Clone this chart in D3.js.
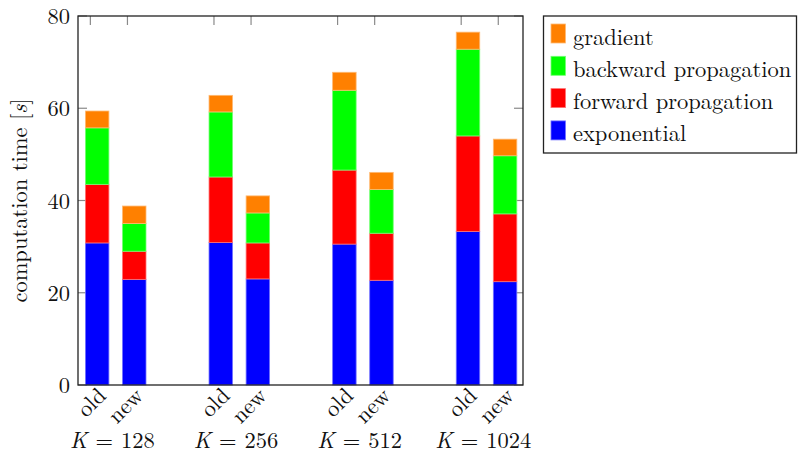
<!DOCTYPE html>
<html>
<head>
<meta charset="utf-8">
<script src="https://cdn.jsdelivr.net/npm/d3@7"></script>
<style>
  html, body { margin: 0; padding: 0; background: #fff; }
  svg { display: block; }
</style>
</head>
<body>
<svg id="chart" width="798" height="450"></svg>
<script>
// Problem sizes and the two implementations compared for each
const groups = ["128", "256", "512", "1024"];
const variants = ["old", "new"];

// Stacked timing components in seconds, one value per bar (old/new per K)
const exponential = [30.8, 22.9, 30.9, 23.0, 30.55, 22.7, 33.3, 22.4];
const forwardProp = [12.7, 6.1, 14.2, 7.8, 16.05, 10.2, 20.7, 14.7];
const backwardProp = [12.25, 6.0, 14.1, 6.5, 17.3, 9.5, 18.8, 12.6];
const gradient = [3.65, 3.8, 3.6, 3.7, 3.9, 3.7, 3.7, 3.6];

const seriesNames = ["exponential", "forward propagation", "backward propagation", "gradient"];
const seriesColors = ["#0000ff", "#ff0000", "#00ff00", "#ff8000"];
const yTicks = [0, 20, 40, 60, 80];

const FONT = '"Latin Modern Roman", "CMU Serif", "Liberation Serif", serif';
const FS = 22.5;

const svg = d3.select("#chart");
const plotL = 78, plotR = 523, plotT = 16, plotB = 385;

// Bar positions along x: members of a group sit one unit apart, groups 10/3 apart
const positions = [];
groups.forEach((g, gi) => variants.forEach((v, vi) => positions.push(gi * 10 / 3 + vi)));

const x = d3.scaleLinear().domain([-1 / 3, 11 + 2 / 3]).range([plotL, plotR]);
const y = d3.scaleLinear().domain([0, 80]).range([plotB, plotT]);

const barShift = 6.8, barWidth = 23.5, tickLen = 9;

function label(sel) {
  return sel.style("font-family", FONT).style("font-size", FS + "px").style("fill", "#111");
}

// Stack the series
const rows = positions.map((p, i) => ({
  pos: p,
  exponential: exponential[i],
  "forward propagation": forwardProp[i],
  "backward propagation": backwardProp[i],
  gradient: gradient[i]
}));
const stacked = d3.stack().keys(seriesNames)(rows);

// Tick marks (drawn beneath the bars)
const tickG = svg.append("g").attr("stroke", "#8a8a8a").attr("stroke-width", 1.2);
positions.forEach(p => {
  tickG.append("line").attr("x1", x(p)).attr("x2", x(p)).attr("y1", plotT).attr("y2", plotT + tickLen);
  tickG.append("line").attr("x1", x(p)).attr("x2", x(p)).attr("y1", plotB).attr("y2", plotB - tickLen);
});
yTicks.forEach(t => {
  tickG.append("line").attr("x1", plotL).attr("x2", plotL + tickLen).attr("y1", y(t)).attr("y2", y(t));
  tickG.append("line").attr("x1", plotR).attr("x2", plotR - tickLen).attr("y1", y(t)).attr("y2", y(t));
});

// Bars
stacked.forEach((layer, li) => {
  const col = seriesColors[li];
  svg.append("g")
    .selectAll("rect")
    .data(layer)
    .join("rect")
    .attr("x", d => x(d.data.pos) + barShift - barWidth / 2)
    .attr("width", barWidth)
    .attr("y", d => y(d[1]))
    .attr("height", d => y(d[0]) - y(d[1]))
    .attr("fill", col)
    .attr("stroke", d3.interpolateRgb(col, "#ffffff")(0.45))
    .attr("stroke-width", 0.8);
});

// Axis frame
svg.append("rect")
  .attr("x", plotL).attr("y", plotT)
  .attr("width", plotR - plotL).attr("height", plotB - plotT)
  .attr("fill", "none").attr("stroke", "#222").attr("stroke-width", 1.3);

// Y tick labels
const yAxis = d3.axisLeft(y).tickValues(yTicks).tickSize(0).tickPadding(0);
const yG = svg.append("g").attr("transform", `translate(${plotL - 8},0)`).call(yAxis);
yG.select(".domain").remove();
label(yG.selectAll("text")).attr("dy", "0.34em");

// Rotated old/new labels
positions.forEach((p, i) => {
  const tx = x(p) + 17, ty = 397;
  label(svg.append("text"))
    .attr("transform", `translate(${tx},${ty}) rotate(-45)`)
    .attr("text-anchor", "end")
    .text(variants[i % 2]);
});

// Group labels K = ...
groups.forEach((g, gi) => {
  const cx = (x(gi * 10 / 3) + x(gi * 10 / 3 + 1)) / 2 + 3.5;
  const t = label(svg.append("text"))
    .attr("x", cx).attr("y", 447.5)
    .attr("text-anchor", "middle");
  t.append("tspan").style("font-style", "italic").text("K");
  t.append("tspan").attr("dx", 8).text("=");
  t.append("tspan").attr("dx", 8).text(g);
});

// Y axis title
const yt = label(svg.append("text"))
  .attr("transform", `translate(27,${(plotT + plotB) / 2}) rotate(-90)`)
  .attr("text-anchor", "middle");
yt.append("tspan").text("computation time [");
yt.append("tspan").style("font-style", "italic").text("s");
yt.append("tspan").text("]");

// Legend (reversed order: top of stack first)
const lg = svg.append("g");
lg.append("rect")
  .attr("x", 543.5).attr("y", 16).attr("width", 253).attr("height", 137)
  .attr("fill", "#fff").attr("stroke", "#222").attr("stroke-width", 1.3);
const legendOrder = seriesNames.map((n, i) => i).reverse();
legendOrder.forEach((si, k) => {
  const rowY = 24 + k * 32.3;
  const col = seriesColors[si];
  lg.append("rect")
    .attr("x", 551).attr("y", rowY).attr("width", 14.5).attr("height", 19)
    .attr("fill", col)
    .attr("stroke", d3.interpolateRgb(col, "#ffffff")(0.45))
    .attr("stroke-width", 0.8);
  label(lg.append("text"))
    .attr("x", 573).attr("y", rowY + 20.5)
    .text(seriesNames[si]);
});
</script>
</body>
</html>
